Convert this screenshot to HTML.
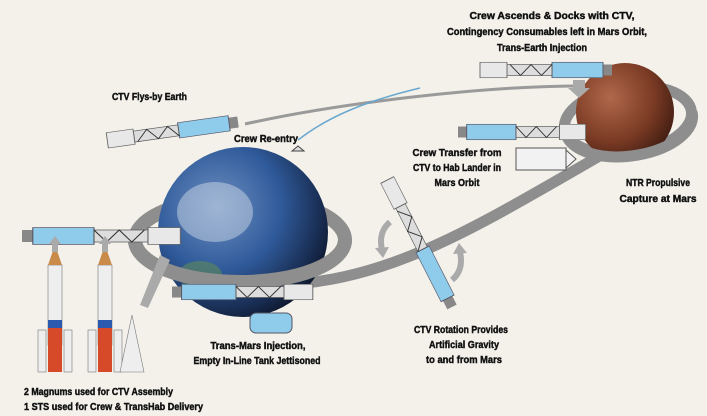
<!DOCTYPE html>
<html><head><meta charset="utf-8"><style>
html,body{margin:0;padding:0;background:#f3f1ea;}
svg{display:block}
text{font-family:"Liberation Sans",sans-serif;font-weight:bold;font-size:10.5px;fill:#111;stroke:#111;stroke-width:0.45;}
</style></head><body>
<svg width="707" height="416" viewBox="0 0 707 416" xmlns="http://www.w3.org/2000/svg">
<defs>
<radialGradient id="eg" cx="0.35" cy="0.35" r="0.75">
<stop offset="0" stop-color="#6d8fbf"/><stop offset="0.5" stop-color="#2f5a9a"/><stop offset="0.85" stop-color="#16284a"/><stop offset="1" stop-color="#0a1020"/></radialGradient>
<radialGradient id="mg" cx="0.35" cy="0.35" r="0.75">
<stop offset="0" stop-color="#b0684a"/><stop offset="0.6" stop-color="#7a3a24"/><stop offset="1" stop-color="#3a1a10"/></radialGradient>
<g id="ctv">
<rect x="0" y="-5" width="6" height="10" fill="#888"/>
<rect x="6" y="-7" width="34" height="14" fill="#8fcbea" stroke="#556" stroke-width="0.6"/>
<rect x="40" y="-5" width="30" height="10" fill="#ddd" stroke="#555" stroke-width="0.6"/>
<path d="M40,-5 L47,5 L54,-5 L61,5 L68,-5" stroke="#333" fill="none" stroke-width="0.7"/>
<rect x="70" y="-7" width="18" height="14" fill="#e8e8e8" stroke="#666" stroke-width="0.6"/>
</g>
</defs>
<!-- transfer orbits -->
<path d="M250,285 C380,290 470,230 610,150" stroke="#8e8e8e" stroke-width="11" fill="none"/>
<path d="M245,124 C330,105 480,85 590,86" stroke="#9a9a9a" stroke-width="3" fill="none"/>
<path d="M298,140 C330,115 370,100 420,88" stroke="#6aa7d0" stroke-width="1.5" fill="none"/>
<!-- Earth ring back -->
<ellipse cx="240" cy="240" rx="105" ry="42" fill="none" stroke="#8e8e8e" stroke-width="14"/>
<circle cx="243" cy="232" r="85" fill="url(#eg)"/>
<ellipse cx="215" cy="212" rx="38" ry="30" fill="#d9e3ee" opacity="0.45"/>
<ellipse cx="200" cy="275" rx="22" ry="14" fill="#5f8a5a" opacity="0.6"/>
<path d="M135,240 A105,42 0 0 0 345,240" fill="none" stroke="#8e8e8e" stroke-width="14"/>
<!-- Mars -->
<ellipse cx="628" cy="120" rx="64" ry="33" fill="none" stroke="#8e8e8e" stroke-width="11" transform="rotate(-8 628 120)"/>
<circle cx="625" cy="112" r="49" fill="url(#mg)"/>
<path d="M566,134 A64,33 -8 0 0 692,112" fill="none" stroke="#8e8e8e" stroke-width="11"/>
<!-- vehicles -->
<use href="#ctv" transform="translate(612,70) scale(-1.5,1.1)"/>
<use href="#ctv" transform="translate(458,132) scale(1.45,1.1)"/>
<use href="#ctv" transform="translate(238,122) rotate(172) scale(1.5,1.1)"/>
<use href="#ctv" transform="translate(22,236) scale(1.8,1.2)"/>
<use href="#ctv" transform="translate(172,292) scale(1.6,1.1)"/>
<use href="#ctv" transform="translate(452,307) rotate(-117) scale(1.62,1.05)"/>
<rect x="516" y="148" width="50" height="22" fill="#f2f2f2" stroke="#555"/>
<path d="M566,150 l10,9 l-10,9z" fill="#f2f2f2" stroke="#555"/>
<rect x="250" y="313" width="42" height="20" rx="6" fill="#8fcbea" stroke="#556"/>
<path d="M292,151 l6,-5 l6,5 z" fill="#ddd" stroke="#444"/>
<!-- rockets -->
<g fill="#eee" stroke="#777" stroke-width="0.6">
<rect x="48" y="265" width="14" height="80"/><rect x="98" y="265" width="14" height="80"/>
<rect x="38" y="330" width="8" height="42"/><rect x="64" y="330" width="8" height="42"/>
<rect x="88" y="330" width="8" height="42"/><rect x="114" y="330" width="8" height="42"/>
<path d="M120,372 L132,315 L144,372 Z"/>
</g>
<path d="M48,265 l7,-20 l7,20z M98,265 l7,-20 l7,20z" fill="#c98a4a"/>
<rect x="48" y="320" width="14" height="8" fill="#2a5ab0"/><rect x="98" y="320" width="14" height="8" fill="#2a5ab0"/>
<rect x="48" y="328" width="14" height="44" fill="#d64a2a"/><rect x="98" y="328" width="14" height="44" fill="#d64a2a"/>
<path d="M49,244 l6,-8 l6,8 h-3 v8 h-6 v-8z M99,244 l6,-8 l6,8 h-3 v8 h-6 v-8z" fill="#aaa"/>
<path d="M140,305 L160,255 L170,260 L148,308z" fill="#aaa"/>
<path d="M573,80 h12 v8 h5 l-11,10 l-11,-10 h5z" fill="#aaa"/>
<path d="M390,222 q-12,10 -8,28" stroke="#aaa" stroke-width="6" fill="none"/>
<path d="M375,248 l8,10 l6,-11z" fill="#aaa"/>
<path d="M452,280 q12,-10 8,-28" stroke="#aaa" stroke-width="6" fill="none"/>
<path d="M467,253 l-8,-10 l-6,11z" fill="#aaa"/>
<!-- labels -->
<text x="552" y="19" text-anchor="middle" textLength="165" lengthAdjust="spacingAndGlyphs">Crew Ascends &amp; Docks with CTV,</text>
<text x="547" y="35" text-anchor="middle" textLength="200" lengthAdjust="spacingAndGlyphs">Contingency Consumables left in Mars Orbit,</text>
<text x="542" y="51" text-anchor="middle" textLength="90" lengthAdjust="spacingAndGlyphs">Trans-Earth Injection</text>
<text x="112" y="100" textLength="75" lengthAdjust="spacingAndGlyphs">CTV Flys-by Earth</text>
<text x="234" y="142" textLength="64" lengthAdjust="spacingAndGlyphs">Crew Re-entry</text>
<text x="457" y="156" text-anchor="middle" textLength="89" lengthAdjust="spacingAndGlyphs">Crew Transfer from</text>
<text x="457" y="171" text-anchor="middle" textLength="88" lengthAdjust="spacingAndGlyphs">CTV to Hab Lander in</text>
<text x="457" y="186" text-anchor="middle" textLength="45" lengthAdjust="spacingAndGlyphs">Mars Orbit</text>
<text x="658" y="186" text-anchor="middle" textLength="64" lengthAdjust="spacingAndGlyphs">NTR Propulsive</text>
<text x="658" y="202" text-anchor="middle" textLength="77" lengthAdjust="spacingAndGlyphs">Capture at Mars</text>
<text x="258" y="349" text-anchor="middle" textLength="95" lengthAdjust="spacingAndGlyphs">Trans-Mars Injection,</text>
<text x="257" y="364" text-anchor="middle" textLength="127" lengthAdjust="spacingAndGlyphs">Empty In-Line Tank Jettisoned</text>
<text x="461" y="333" text-anchor="middle" textLength="94" lengthAdjust="spacingAndGlyphs">CTV Rotation Provides</text>
<text x="464" y="348" text-anchor="middle" textLength="70" lengthAdjust="spacingAndGlyphs">Artificial Gravity</text>
<text x="464" y="363" text-anchor="middle" textLength="76" lengthAdjust="spacingAndGlyphs">to and from Mars</text>
<text x="24" y="395" textLength="149" lengthAdjust="spacingAndGlyphs">2 Magnums used for CTV Assembly</text>
<text x="24" y="410" textLength="179" lengthAdjust="spacingAndGlyphs">1 STS used for Crew &amp; TransHab Delivery</text>
</svg>
</body></html>
